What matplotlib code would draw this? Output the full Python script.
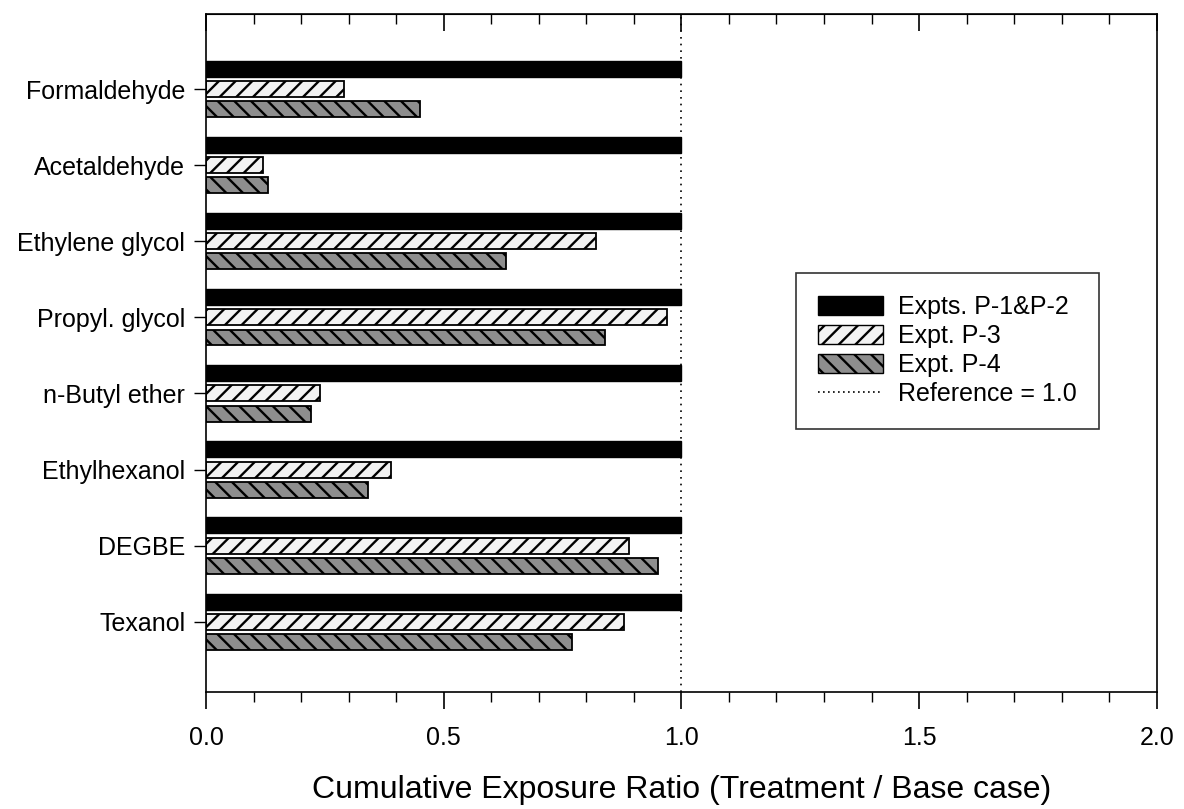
import numpy as np
import matplotlib.pyplot as plt
from matplotlib.lines import Line2D
from matplotlib.patches import Patch
from matplotlib.ticker import MultipleLocator, FormatStrFormatter

plt.rcParams['font.family'] = ['Liberation Sans', 'DejaVu Sans']
plt.rcParams['hatch.linewidth'] = 1.7
plt.rcParams['xtick.labelsize'] = 18
plt.rcParams['ytick.labelsize'] = 18

compounds = ['Formaldehyde', 'Acetaldehyde', 'Ethylene glycol', 'Propyl. glycol',
             'n-Butyl ether', 'Ethylhexanol', 'DEGBE', 'Texanol']
p12 = [1.0, 1.0, 1.0, 1.0, 1.0, 1.0, 1.0, 1.0]
p3 = [0.29, 0.12, 0.82, 0.97, 0.24, 0.39, 0.89, 0.88]
p4 = [0.45, 0.13, 0.63, 0.84, 0.22, 0.34, 0.95, 0.77]
labels = ['Expts. P-1&P-2', 'Expt. P-3', 'Expt. P-4', 'Reference = 1.0']

fig = plt.figure(figsize=(11.84, 8.09), dpi=100)
ax = fig.add_axes([0.174, 0.145, 0.803, 0.838])

y = np.arange(len(compounds))
h = 0.21
d = 0.265
ax.barh(y - d, p12, height=h, color='black', edgecolor='black', linewidth=1)
ax.barh(y, p3, height=h, color='#f2f2f2', edgecolor='black', linewidth=1.3, hatch='//')
ax.barh(y + d, p4, height=h, color='#8e8e8e', edgecolor='black', linewidth=1.3, hatch='\\\\')
ax.axvline(1.0, color='black', linestyle=(0, (1, 3)), linewidth=1.2)

ax.set_xlim(0, 2.0)
ax.set_ylim(7.92, -0.99)
ax.set_yticks(y)
ax.set_yticklabels(compounds)
ax.xaxis.set_major_locator(MultipleLocator(0.5))
ax.xaxis.set_minor_locator(MultipleLocator(0.1))
ax.xaxis.set_major_formatter(FormatStrFormatter('%.1f'))
ax.tick_params(axis='x', which='major', direction='out', length=12, width=1.2, pad=13)
ax.tick_params(axis='x', which='minor', direction='out', length=7, width=1)
ax.tick_params(axis='y', direction='out', length=9, width=1, pad=6)
for s in ax.spines.values():
    s.set_linewidth(1.2)

# top ticks go inward
sec = ax.secondary_xaxis('top')
sec.xaxis.set_major_locator(MultipleLocator(0.5))
sec.xaxis.set_minor_locator(MultipleLocator(0.1))
sec.tick_params(which='major', direction='in', length=12, width=1.2, labeltop=False)
sec.tick_params(which='minor', direction='in', length=7, width=1)

ax.set_xlabel('Cumulative Exposure Ratio (Treatment / Base case)', fontsize=23, labelpad=18)

handles = [Patch(facecolor='black', edgecolor='black'),
           Patch(facecolor='#f2f2f2', edgecolor='black', hatch='//'),
           Patch(facecolor='#8e8e8e', edgecolor='black', hatch='\\\\'),
           Line2D([0], [0], color='black', linestyle=(0, (1, 2)), linewidth=1.2)]
leg = ax.legend(handles, labels, loc='center left', bbox_to_anchor=(0.607, 0.503),
                fontsize=18, frameon=True, fancybox=False, edgecolor='black',
                handlelength=2.6, handleheight=0.8, handletextpad=0.6,
                borderpad=0.9, labelspacing=0.2)
leg.get_frame().set_linewidth(1.2)

fig.savefig('out.png', dpi=100)
